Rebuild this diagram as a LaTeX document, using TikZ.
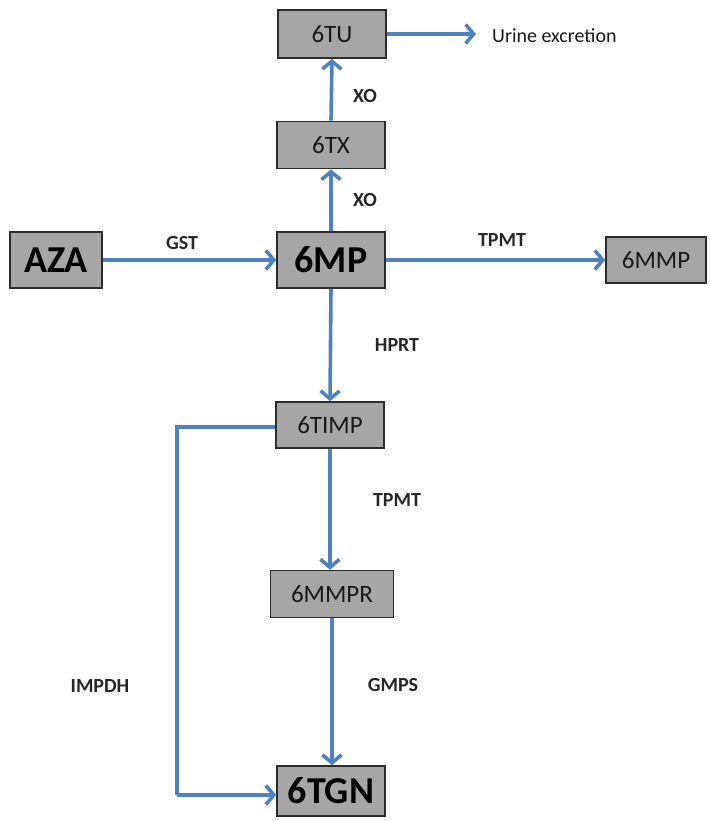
\documentclass[tikz,border=0pt]{standalone}
\usepackage{fontspec}
\setmainfont{Carlito}
\usetikzlibrary{arrows.meta}
\definecolor{arrowblue}{HTML}{4F81BD}
\definecolor{boxgray}{HTML}{A6A6A6}
\definecolor{boxline}{HTML}{2B2B2B}
\begin{document}
\begin{tikzpicture}[x=1pt,y=-1pt,
  box/.style={draw=boxline,fill=boxgray,line width=1.6pt,inner sep=0pt,
    font=\fontsize{25}{25}\selectfont,text=black!90},
  bigbox/.style={box,font=\fontsize{38}{38}\selectfont\bfseries,text=black},
  lbl/.style={font=\fontsize{20}{20}\selectfont\bfseries,text=black!85,inner sep=0pt},
  flow/.style={draw=arrowblue,line width=3.6pt,
    -{Straight Barb[length=8pt,width=19pt,line width=3.6pt]}},
  flowline/.style={draw=arrowblue,line width=3.6pt}]
\useasboundingbox (0,0) rectangle (709,821);
% nodes
\node[box,minimum width=108pt,minimum height=48pt] (tu) at (332,34) {6TU};
\node[font=\fontsize{20}{20}\selectfont,text=black!90,inner sep=0pt,anchor=west] (urine) at (492,36) {Urine excretion};
\node[box,minimum width=108pt,minimum height=47pt] (tx) at (331,145) {6TX};
\node[bigbox,minimum width=108pt,minimum height=56pt] (mp) at (331,260) {6MP};
\node[bigbox,minimum width=92pt,minimum height=56pt] (aza) at (56,260) {AZA};
\node[box,minimum width=100pt,minimum height=46pt] (mmp) at (656,260) {6MMP};
\node[box,minimum width=108pt,minimum height=46pt] (timp) at (330,425) {6TIMP};
\node[box,minimum width=123pt,minimum height=47pt] (mmpr) at (332,594) {6MMPR};
\node[bigbox,minimum width=108pt,minimum height=50pt] (tgn) at (331,791) {6TGN};
\coordinate (c1) at (177,427);
\coordinate (c2) at (177,795);
% connectors
\draw[flow] (tu.east) -- ([xshift=-16pt]urine.west |- tu.east);
\draw[flow] (tx.north) -- (tu.south);
\draw[flow] (mp.north) -- (tx.south);
\draw[flow] (aza.east) -- (mp.west);
\draw[flow] (mp.east) -- (mmp.west);
\draw[flow] (mp.south) -- (timp.south |- timp.north);
\draw[flow] (timp.south) -- (timp.south |- mmpr.north);
\draw[flow] (mmpr.south) -- (mmpr.south |- tgn.north);
\draw[flowline] (timp.west |- c1) -- (c1) -- (c2);
\draw[flow] (c2) -- (tgn.west |- c2);
% labels
\node[lbl] (xo1) at (365,96) {XO};
\node[lbl] (xo2) at (365,200) {XO};
\node[lbl] (gst) at (182,243) {GST};
\node[lbl] (tpmt1) at (502,240) {TPMT};
\node[lbl] (hprt) at (397,345) {HPRT};
\node[lbl] (tpmt2) at (397,500) {TPMT};
\node[lbl] (gmps) at (393,685) {GMPS};
\node[lbl] (impdh) at (100,686) {IMPDH};
\end{tikzpicture}
\end{document}
